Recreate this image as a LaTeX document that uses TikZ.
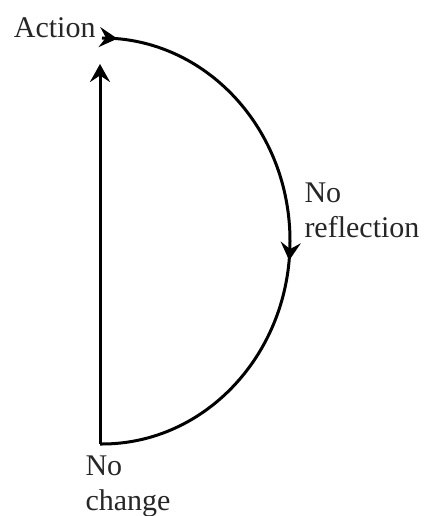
\documentclass[tikz,border=0pt]{standalone}
\usepackage{fontspec}
\setmainfont{Liberation Serif}
\usetikzlibrary{arrows.meta,decorations.markings}

\begin{document}
\begin{tikzpicture}[x=1pt, y=-1pt, line width=3pt,
    barb/.tip={Stealth[length=18pt, width=20pt, inset=6.5pt]},
    lbl/.style={font=\fontsize{30}{35}\selectfont, inner sep=0pt, align=left, text=black!85}]
    \useasboundingbox (0,0) rectangle (424,516);
    \coordinate (act) at (102,38);
    \coordinate (noch) at (100,444);
    \coordinate (top) at (100,64);

    \node[lbl, anchor=base east] (action) at (97,38) {Action};
    \node[lbl, anchor=base west] (refl) at (303,237) {No\\reflection};
    \node[lbl, anchor=base west] (change) at (84,510) {No\\change};

    \draw[decoration={markings,
            mark=at position 0.025 with {\arrow{barb}},
            mark=at position 0.53 with {\arrow{barb}}},
        postaction={decorate}]
        (act) arc[start angle=-90, end angle=90, x radius=188, y radius=203] -- (noch);
    \draw[-{barb}] (noch) -- (top);
\end{tikzpicture}
\end{document}
